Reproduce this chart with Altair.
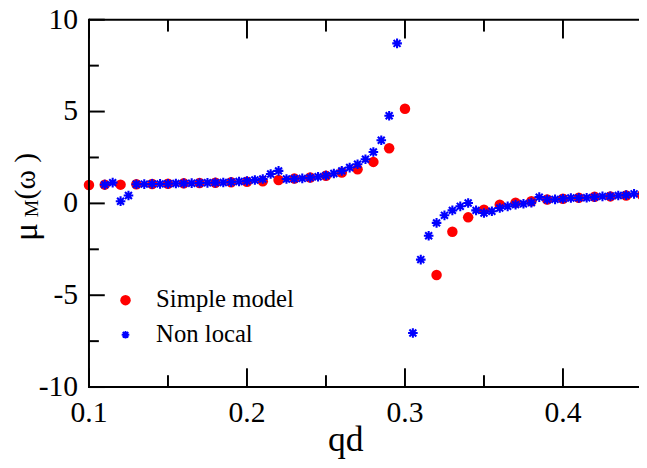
import altair as alt
import pandas as pd

# ---- data ----
simple_qd = [0.10, 0.11, 0.12, 0.13, 0.14, 0.15, 0.16, 0.17, 0.18, 0.19, 0.20,
             0.21, 0.22, 0.23, 0.24, 0.25, 0.26, 0.27, 0.28, 0.29, 0.30,
             0.32, 0.33, 0.34, 0.35, 0.36, 0.37, 0.38, 0.39, 0.40, 0.41,
             0.42, 0.43, 0.44, 0.45]
simple_mu = [1.00, 1.02, 1.02, 1.04, 1.06, 1.07, 1.09, 1.11, 1.12, 1.15, 1.18,
             1.20, 1.27, 1.35, 1.41, 1.50, 1.68, 1.86, 2.26, 3.00, 5.15,
             -3.90, -1.54, -0.76, -0.34, -0.07, 0.04, 0.12, 0.21, 0.25, 0.31,
             0.36, 0.38, 0.43, 0.45]

nonlocal_qd = [0.110, 0.115, 0.120, 0.125, 0.130, 0.135, 0.140, 0.145, 0.150,
               0.155, 0.160, 0.165, 0.170, 0.175, 0.180, 0.185, 0.190, 0.195,
               0.200, 0.205, 0.210, 0.215, 0.220, 0.225, 0.230, 0.235, 0.240,
               0.245, 0.250, 0.255, 0.260, 0.265, 0.270, 0.275, 0.280, 0.285,
               0.290, 0.295, 0.305, 0.310, 0.315, 0.320, 0.325, 0.330, 0.335,
               0.340, 0.345, 0.350, 0.355, 0.360, 0.365, 0.370, 0.375, 0.380,
               0.385, 0.390, 0.395, 0.400, 0.405, 0.410, 0.415, 0.420, 0.425,
               0.430, 0.435, 0.440, 0.445]
nonlocal_mu = [1.02, 1.13, 0.12, 0.43, 1.04, 1.05, 1.06, 1.06, 1.07,
               1.08, 1.09, 1.10, 1.11, 1.12, 1.13, 1.14, 1.16, 1.19,
               1.22, 1.27, 1.33, 1.60, 1.77, 1.33, 1.34, 1.36, 1.40,
               1.45, 1.52, 1.63, 1.77, 1.95, 2.13, 2.40, 2.80, 3.44,
               4.77, 8.71, -7.06, -3.06, -1.76, -1.06, -0.65, -0.38, -0.16,
               0.02, -0.38, -0.52, -0.43, -0.25, -0.16, -0.07, -0.02, 0.04,
               0.34, 0.21, 0.22, 0.25, 0.29, 0.30, 0.31, 0.34, 0.38,
               0.39, 0.43, 0.45, 0.52]

series_names = ["Simple model", "Non local"]

x_major = [0.1, 0.2, 0.3, 0.4]
x_minor = [0.15, 0.25, 0.35, 0.45]
y_major = [-10, -5, 0, 5, 10]
y_minor = [-7.5, -2.5, 2.5, 7.5]
x_labels = ["0.1", "0.2", "0.3", "0.4"]
y_labels = ["-10", "-5", "0", "5", "10"]

simple_df = pd.DataFrame({"qd": simple_qd, "mu": simple_mu})
nonlocal_df = pd.DataFrame({"qd": nonlocal_qd, "mu": nonlocal_mu})

FONT = "Liberation Serif"
W, H = 557, 372
XDOM = [0.1, 0.1 + W / 1600.0]
YDOM = [-10, 10]

ASTER = "M-1,0L1,0M0,-1L0,1M-0.72,-0.72L0.72,0.72M-0.72,0.72L0.72,-0.72"

xs = alt.Scale(domain=XDOM, nice=False, zero=False)
ys = alt.Scale(domain=YDOM, nice=False, zero=False)

red = alt.Chart(simple_df).mark_point(
    shape="circle", filled=True, color="#ff0000", size=113, opacity=1
).encode(
    x=alt.X("qd:Q", scale=xs, axis=None),
    y=alt.Y("mu:Q", scale=ys, axis=None),
)

blue = alt.Chart(nonlocal_df).mark_point(
    shape=ASTER, filled=False, color="#0000ff", size=95, strokeWidth=2.1, opacity=1
).encode(
    x=alt.X("qd:Q", scale=xs, axis=None),
    y=alt.Y("mu:Q", scale=ys, axis=None),
)


def xticks(values, y0, y1):
    return alt.Chart(pd.DataFrame({"qd": values})).mark_rule(
        color="black", strokeWidth=2).encode(
        x=alt.X("qd:Q", scale=xs, axis=None), y=alt.value(y0), y2=alt.value(y1))


def yticks(values, x0, x1):
    return alt.Chart(pd.DataFrame({"mu": values})).mark_rule(
        color="black", strokeWidth=2).encode(
        y=alt.Y("mu:Q", scale=ys, axis=None), x=alt.value(x0), x2=alt.value(x1))


ticks = [
    xticks(x_major, H, H - 19), xticks(x_minor, H, H - 12),
    xticks(x_major, 0, 19), xticks(x_minor, 0, 12),
    yticks(y_major, 0, 16), yticks(y_minor, 0, 10),
]

one = alt.Data(values=[{}])

frame = [
    alt.Chart(one).mark_rule(color="black", strokeWidth=2).encode(
        x=alt.value(0), x2=alt.value(W + 5), y=alt.value(0)),
    alt.Chart(one).mark_rule(color="black", strokeWidth=2).encode(
        x=alt.value(0), x2=alt.value(W + 5), y=alt.value(H)),
    alt.Chart(one).mark_rule(color="black", strokeWidth=2).encode(
        x=alt.value(0), y=alt.value(-1), y2=alt.value(H + 1)),
]

# legend
leg_red = alt.Chart(one).mark_point(shape="circle", filled=True, color="#ff0000",
                                     size=113, opacity=1).encode(
    x=alt.value(37), y=alt.value(284))
leg_blue = alt.Chart(one).mark_point(shape=ASTER, filled=False, color="#0000ff",
                                      size=60, strokeWidth=1.9, opacity=1).encode(
    x=alt.value(37), y=alt.value(319))
leg_t1 = alt.Chart(one).mark_text(text=series_names[0], fontSize=25,
                                  align="left", baseline="alphabetic", color="black").encode(
    x=alt.value(68), y=alt.value(291))
leg_t2 = alt.Chart(one).mark_text(text=series_names[1], fontSize=25,
                                  align="left", baseline="alphabetic", color="black").encode(
    x=alt.value(68), y=alt.value(326))

xlab = alt.Chart(pd.DataFrame({"qd": x_major, "lab": x_labels})).mark_text(
    fontSize=30, align="center", baseline="top", color="black").encode(
    x=alt.X("qd:Q", scale=xs, axis=None), y=alt.value(H + 11), text="lab:N")
ylab = alt.Chart(pd.DataFrame({"mu": y_major, "lab": y_labels})).mark_text(
    fontSize=30, align="right", baseline="middle", color="black").encode(
    y=alt.Y("mu:Q", scale=ys, axis=None), x=alt.value(-11), text="lab:N")

# axis titles
yt_mu = alt.Chart(one).mark_text(text="μ", fontSize=34, angle=270,
                                 align="left", baseline="alphabetic", color="black").encode(
    x=alt.value(-53), y=alt.value(224))
yt_M = alt.Chart(one).mark_text(text="M", fontSize=20, angle=270,
                                align="left", baseline="alphabetic", color="black").encode(
    x=alt.value(-52), y=alt.value(200))
yt_om = alt.Chart(one).mark_text(text="(ω )", fontSize=30, angle=270,
                                 align="left", baseline="alphabetic", color="black").encode(
    x=alt.value(-55), y=alt.value(182))
xt = alt.Chart(one).mark_text(text="qd", fontSize=36,
                              align="center", baseline="alphabetic", color="black").encode(
    x=alt.value(260), y=alt.value(437))

chart = alt.layer(
    red, blue, *ticks, *frame, xlab, ylab,
    leg_red, leg_blue, leg_t1, leg_t2, yt_mu, yt_M, yt_om, xt
).properties(
    width=W, height=H,
    autosize=alt.AutoSizeParams(type="none"),
    padding={"left": 82, "top": 9, "right": 0, "bottom": 71},
    background="white",
).configure_view(stroke=None).configure_text(font=FONT)

chart.save("out.html", embed_options={"renderer": "svg", "actions": False})
